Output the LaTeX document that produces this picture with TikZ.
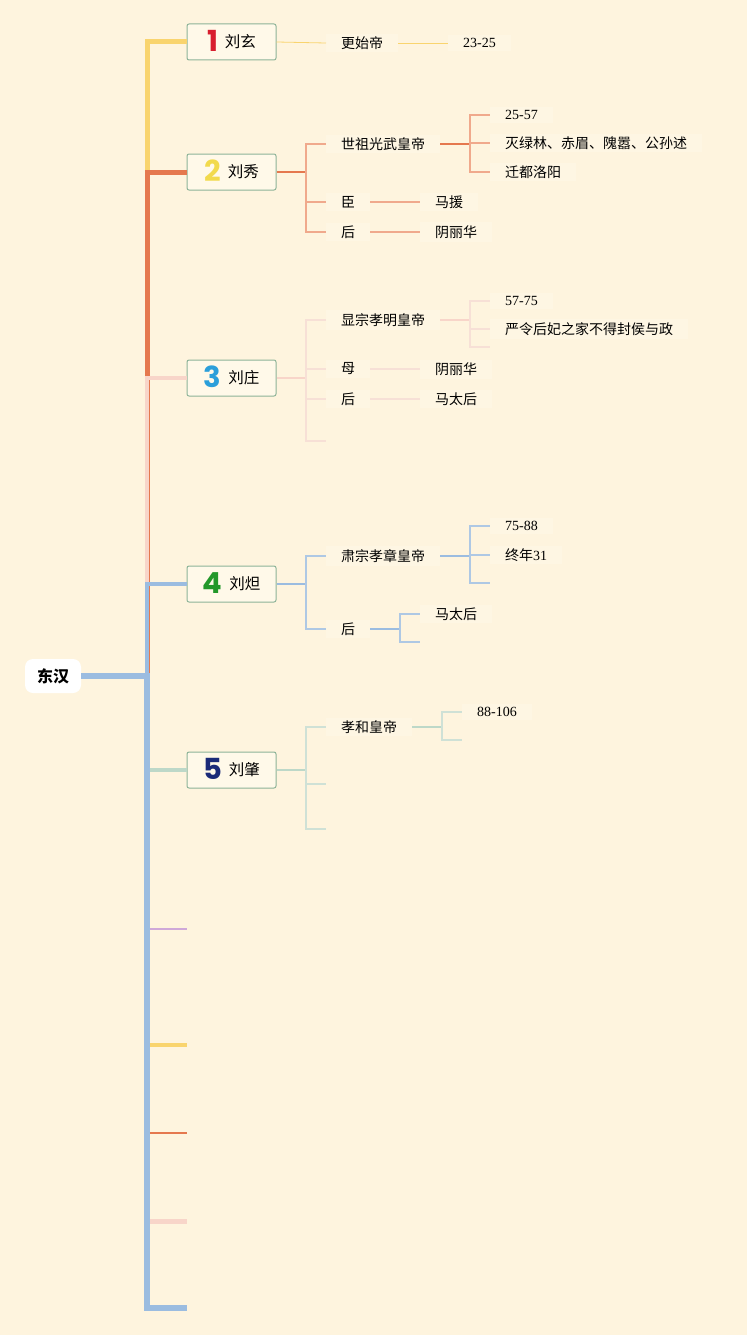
\documentclass[tikz,border=0pt]{standalone}
\usepackage{fontspec}
\setmainfont{Liberation Serif}
\newfontfamily\cjk{Noto Sans CJK SC}
\newfontfamily\numfont{Poppins}
\usetikzlibrary{positioning}

\definecolor{paper}{HTML}{FEF4DE}
\definecolor{leafbg}{HTML}{FEF6E3}
\definecolor{boxfill}{HTML}{FFF9E9}
\definecolor{boxline}{HTML}{8DB398}
\definecolor{hanA}{HTML}{F9D46E}
\definecolor{hanB}{HTML}{E5784E}
\definecolor{hanBs}{HTML}{F0A98C}
\definecolor{hanC}{HTML}{F8D5C9}
\definecolor{hanCs}{HTML}{F7E0D6}
\definecolor{hanD}{HTML}{9BBCE0}
\definecolor{hanDs}{HTML}{AEC8E4}
\definecolor{hanE}{HTML}{BDD8C8}
\definecolor{hanEs}{HTML}{CFE1D6}
\definecolor{hanF}{HTML}{CFA8D8}
\definecolor{numA}{HTML}{D81E2E}
\definecolor{numB}{HTML}{F2DA4C}
\definecolor{numC}{HTML}{2B9FDA}
\definecolor{numD}{HTML}{23982A}
\definecolor{numE}{HTML}{1B2A78}

\newcommand{\eranum}[2]{\raisebox{-3.5pt}[0pt][0pt]{\numfont\bfseries\fontsize{29}{29}\selectfont\color{#1}#2}\hspace{7pt}}

\begin{document}
\begin{tikzpicture}[x=1pt, y=-1pt,
  rootbox/.style={fill=white, rounded corners=8pt, minimum width=56pt, minimum height=34pt, inner sep=0pt, font=\cjk\bfseries\fontsize{16}{19}\selectfont},
  era/.style={draw=boxline, fill=boxfill, line width=1pt, rounded corners=2pt, minimum width=89pt, minimum height=36pt, inner sep=0pt, font=\cjk\fontsize{15.5}{18}\selectfont},
  leaf/.style={anchor=west, fill=leafbg, inner xsep=15pt, inner ysep=3pt, font=\fontsize{14}{17}\selectfont},
  cn/.style={leaf, font=\cjk\fontsize{14}{17}\selectfont},
  trunk/.style={line width=#1, line join=miter},
  twig/.style={draw=#1, line width=1.3pt},
  bough/.style={draw=#1, line width=2pt}]
\fill[paper] (0,0) rectangle (747,1335);
\useasboundingbox (0,0) rectangle (747,1335);

% root and main branches
\node[rootbox] (root) at (53,676) {东汉};
\coordinate (hub) at (147,676);

\node[era] (e1) at (231.5,42) {\eranum{numA}{1}刘玄};
\node[era] (e2) at (231.5,172) {\eranum{numB}{2}刘秀};
\node[era] (e3) at (231.5,378) {\eranum{numC}{3}刘庄};
\node[era] (e4) at (231.5,584) {\eranum{numD}{4}刘炟};
\node[era] (e5) at (231.5,770) {\eranum{numE}{5}刘肇};
\coordinate (s6) at (187,929);
\coordinate (s7) at (187,1045);
\coordinate (s8) at (187,1133);
\coordinate (s9) at (187,1221);
\coordinate (s10) at (187,1308);

\draw[trunk=5pt, hanA] (root.east) -- (hub) |- (e1.west);
\draw[trunk=5pt, hanB] (root.east) -- (hub) |- (e2.west);
\draw[trunk=3.5pt, hanC] (root.east) -- (hub) |- (e3.west);
\draw[trunk=4pt, hanD] (root.east) -- (hub) |- (e4.west);
\draw[trunk=4.5pt, hanE] (root.east) -- (hub) |- (e5.west);
\draw[trunk=2pt, hanF] (root.east) -- (hub) |- (s6);
\draw[trunk=4pt, hanA] (root.east) -- (hub) |- (s7);
\draw[trunk=2pt, hanB] (root.east) -- (hub) |- (s8);
\draw[trunk=5pt, hanC] (root.east) -- (hub) |- (s9);
\draw[trunk=6pt, hanD] (root.east) -- (hub) |- (s10);

% 1
\node[cn] (n1a) at (326,43) {更始帝};
\node[leaf] (n1b) at (448,43) {23-25};
\draw[twig=hanA, line width=0.8pt] (e1.east) -- (n1a.west);
\draw[twig=hanA, line width=0.8pt] (n1a.east) -- (n1b.west);

% 2
\coordinate (j2) at (306,172);
\node[cn] (n2a) at (326,144) {世祖光武皇帝};
\node[cn] (n2b) at (326,202) {臣};
\node[cn] (n2c) at (326,232) {后};
\draw[twig=hanB] (e2.east) -- (j2);
\draw[twig=hanBs] (j2) |- (n2a.west);
\draw[twig=hanBs] (j2) |- (n2b.west);
\draw[twig=hanBs] (j2) |- (n2c.west);
\coordinate (j2a) at (470,144);
\node[leaf] (n2a1) at (490,115) {25-57};
\node[cn] (n2a2) at (490,143) {灭绿林、赤眉、隗嚣、公孙述};
\node[cn] (n2a3) at (490,172) {迁都洛阳};
\draw[bough=hanB] (n2a.east) -- (j2a);
\draw[twig=hanBs] (j2a) |- (n2a1.west);
\draw[twig=hanBs] (j2a) |- (n2a2.west);
\draw[twig=hanBs] (j2a) |- (n2a3.west);
\node[cn] (n2b1) at (420,202) {马援};
\node[cn] (n2c1) at (420,232) {阴丽华};
\draw[twig=hanBs] (n2b.east) -- (n2b1.west);
\draw[twig=hanBs] (n2c.east) -- (n2c1.west);

% 3
\coordinate (j3) at (306,378);
\node[cn] (n3a) at (326,320) {显宗孝明皇帝};
\node[cn] (n3b) at (326,369) {母};
\node[cn] (n3c) at (326,399) {后};
\coordinate (n3d) at (326,441);
\draw[twig=hanC] (e3.east) -- (j3);
\draw[twig=hanCs] (j3) |- (n3a.west);
\draw[twig=hanCs] (j3) |- (n3b.west);
\draw[twig=hanCs] (j3) |- (n3c.west);
\draw[twig=hanCs] (j3) |- (n3d);
\coordinate (j3a) at (470,320);
\node[leaf] (n3a1) at (490,301) {57-75};
\node[cn] (n3a2) at (490,329) {严令后妃之家不得封侯与政};
\coordinate (n3a3) at (490,347);
\draw[bough=hanC] (n3a.east) -- (j3a);
\draw[twig=hanCs] (j3a) |- (n3a1.west);
\draw[twig=hanCs] (j3a) |- (n3a2.west);
\draw[twig=hanCs] (j3a) |- (n3a3);
\node[cn] (n3b1) at (420,369) {阴丽华};
\node[cn] (n3c1) at (420,399) {马太后};
\draw[twig=hanCs] (n3b.east) -- (n3b1.west);
\draw[twig=hanCs] (n3c.east) -- (n3c1.west);

% 4
\coordinate (j4) at (306,584);
\node[cn] (n4a) at (326,556) {肃宗孝章皇帝};
\node[cn] (n4b) at (326,629) {后};
\draw[twig=hanD] (e4.east) -- (j4);
\draw[twig=hanDs] (j4) |- (n4a.west);
\draw[twig=hanDs] (j4) |- (n4b.west);
\coordinate (j4a) at (470,556);
\node[leaf] (n4a1) at (490,526) {75-88};
\node[cn] (n4a2) at (490,555) {终年\rmfamily 31};
\coordinate (n4a3) at (490,583);
\draw[bough=hanD] (n4a.east) -- (j4a);
\draw[twig=hanDs] (j4a) |- (n4a1.west);
\draw[twig=hanDs] (j4a) |- (n4a2.west);
\draw[twig=hanDs] (j4a) |- (n4a3);
\coordinate (j4b) at (400,629);
\node[cn] (n4b1) at (420,614) {马太后};
\coordinate (n4b2) at (420,642);
\draw[bough=hanD] (n4b.east) -- (j4b);
\draw[twig=hanDs] (j4b) |- (n4b1.west);
\draw[twig=hanDs] (j4b) |- (n4b2);

% 5
\coordinate (j5) at (306,770);
\node[cn] (n5a) at (326,727) {孝和皇帝};
\coordinate (n5b) at (326,784);
\coordinate (n5c) at (326,829);
\draw[twig=hanE] (e5.east) -- (j5);
\draw[twig=hanEs] (j5) |- (n5a.west);
\draw[twig=hanEs] (j5) |- (n5b);
\draw[twig=hanEs] (j5) |- (n5c);
\coordinate (j5a) at (442,727);
\node[leaf] (n5a1) at (462,712) {88-106};
\coordinate (n5a2) at (462,740);
\draw[bough=hanE] (n5a.east) -- (j5a);
\draw[twig=hanEs] (j5a) |- (n5a1.west);
\draw[twig=hanEs] (j5a) |- (n5a2);
\end{tikzpicture}
\end{document}
